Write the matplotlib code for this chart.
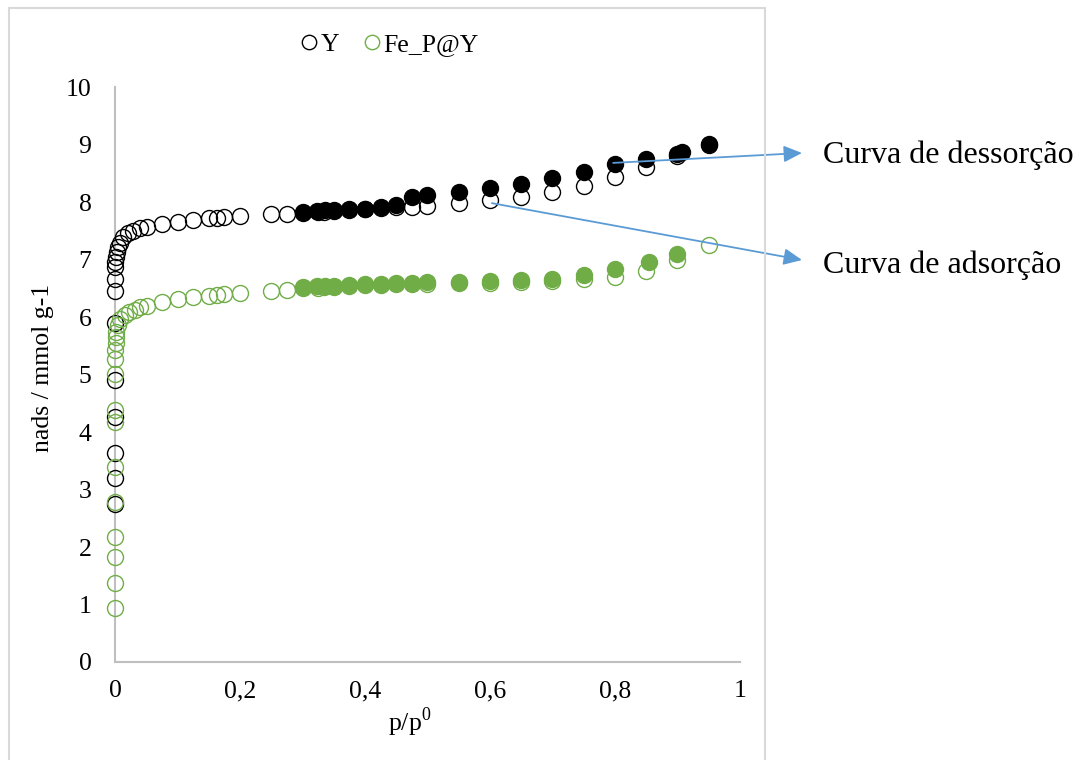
import matplotlib
matplotlib.use("Agg")
import matplotlib.pyplot as plt
from matplotlib.patches import Rectangle

plt.rcParams["font.family"] = ["Liberation Serif", "DejaVu Serif"]
plt.rcParams["mathtext.fontset"] = "custom"
plt.rcParams["mathtext.rm"] = "Liberation Serif"

# Zeolite Y - adsorption branch
y_ads_x = [0.00001, 0.00002, 0.00003, 0.00004, 0.00006, 0.00008, 0.0001, 0.0002,
           0.0004, 0.0006, 0.001, 0.003, 0.005, 0.008, 0.013, 0.021, 0.029, 0.040,
           0.051, 0.075, 0.100, 0.125, 0.150, 0.163, 0.175, 0.200, 0.250, 0.275,
           0.300, 0.325, 0.335, 0.350, 0.375, 0.400, 0.425, 0.450, 0.475, 0.500,
           0.550, 0.600, 0.650, 0.700, 0.750, 0.800, 0.850, 0.900, 0.950]
y_ads_n = [2.75, 3.20, 3.63, 4.26, 4.90, 5.90, 6.45, 6.66,
           6.87, 6.96, 7.04, 7.13, 7.22, 7.29, 7.39, 7.46, 7.50, 7.55,
           7.57, 7.62, 7.65, 7.69, 7.72, 7.73, 7.74, 7.76, 7.79, 7.80,
           7.81, 7.82, 7.83, 7.84, 7.86, 7.88, 7.89, 7.91, 7.92, 7.93,
           7.98, 8.03, 8.09, 8.17, 8.28, 8.43, 8.61, 8.80, 9.00]

# Zeolite Y - desorption branch
y_des_x = [0.951, 0.907, 0.900, 0.850, 0.800, 0.750, 0.700, 0.650, 0.600, 0.550,
           0.500, 0.475, 0.450, 0.425, 0.400, 0.375, 0.350, 0.336, 0.323, 0.300]
y_des_n = [9.01, 8.87, 8.83, 8.75, 8.66, 8.52, 8.42, 8.31, 8.24, 8.17,
           8.12, 8.09, 7.95, 7.91, 7.88, 7.87, 7.86, 7.86, 7.85, 7.83]

# Fe_P@Y - adsorption branch
fe_ads_x = [0.00001, 0.00002, 0.00003, 0.00004, 0.00005, 0.00006, 0.00008, 0.0001,
            0.0002, 0.0003, 0.0005, 0.0008, 0.001, 0.002, 0.004, 0.008, 0.016,
            0.022, 0.032, 0.040, 0.051, 0.075, 0.100, 0.125, 0.150, 0.163, 0.175,
            0.200, 0.250, 0.275, 0.300, 0.325, 0.335, 0.350, 0.375, 0.400, 0.425,
            0.450, 0.475, 0.500, 0.550, 0.600, 0.650, 0.700, 0.750, 0.800, 0.850,
            0.900, 0.950]
fe_ads_n = [0.94, 1.37, 1.83, 2.17, 2.78, 3.39, 4.17, 4.38,
            5.01, 5.27, 5.43, 5.55, 5.66, 5.74, 5.86, 5.96, 6.03,
            6.08, 6.13, 6.17, 6.20, 6.26, 6.31, 6.35, 6.37, 6.38, 6.40,
            6.42, 6.45, 6.47, 6.50, 6.51, 6.52, 6.52, 6.54, 6.55, 6.56,
            6.57, 6.58, 6.58, 6.59, 6.59, 6.61, 6.62, 6.66, 6.70, 6.80,
            7.00, 7.25]

# Fe_P@Y - desorption branch
fe_des_x = [0.900, 0.855, 0.800, 0.750, 0.700, 0.650, 0.600, 0.550, 0.500,
            0.475, 0.450, 0.425, 0.400, 0.375, 0.350, 0.336, 0.323, 0.300]
fe_des_n = [7.09, 6.96, 6.83, 6.73, 6.66, 6.64, 6.63, 6.61, 6.61,
            6.60, 6.59, 6.58, 6.57, 6.56, 6.54, 6.54, 6.54, 6.52]

x_ticks = [0, 0.2, 0.4, 0.6, 0.8, 1.0]
x_tick_labels = ["0", "0,2", "0,4", "0,6", "0,8", "1"]
y_ticks = list(range(0, 11))

BLACK = "#000000"
GREEN = "#70AD47"
ARROW = "#5B9BD5"
SPINE = "#BFBFBF"

W, H = 1092, 760
fig = plt.figure(figsize=(W / 100, H / 100), dpi=100)
ax = fig.add_axes([115 / W, 1 - 662 / H, 625 / W, 575 / H])

ms, mew = 11.5, 1.0
ax.plot(y_ads_x, y_ads_n, ls="none", marker="o", ms=ms, mew=mew,
        mfc="none", mec=BLACK, label="Y", clip_on=False, zorder=3)
ax.plot(fe_ads_x, fe_ads_n, ls="none", marker="o", ms=ms, mew=mew,
        mfc="none", mec=GREEN, label="Fe_P@Y", clip_on=False, zorder=3)
ax.plot(y_des_x, y_des_n, ls="none", marker="o", ms=ms, mew=mew,
        mfc=BLACK, mec=BLACK, clip_on=False, zorder=4)
ax.plot(fe_des_x, fe_des_n, ls="none", marker="o", ms=ms, mew=mew,
        mfc=GREEN, mec=GREEN, clip_on=False, zorder=4)

ax.set_xlim(0, 1)
ax.set_ylim(0, 10)
ax.set_xticks(x_ticks)
ax.set_xticklabels(x_tick_labels)
ax.set_yticks(y_ticks)
ax.tick_params(axis="both", length=0, labelsize=18.5)
ax.tick_params(axis="x", pad=13)
ax.tick_params(axis="y", pad=17)
for side in ("top", "right"):
    ax.spines[side].set_visible(False)
for side in ("left", "bottom"):
    ax.spines[side].set_color(SPINE)
    ax.spines[side].set_linewidth(1.5)

fig.text(43 / W, 1 - 368 / H, "nads / mmol g-1", rotation=90,
         ha="center", va="center", fontsize=18.5)
fig.text(410 / W, 1 - 722 / H, r"p/p$^{0}$", ha="center", va="center",
         fontsize=18.5)

fig.legend(loc="center", bbox_to_anchor=(390 / W, 1 - 45 / H), ncol=2,
           frameon=False, fontsize=18.5, markerscale=0.9,
           handlelength=0.6, handletextpad=0.15, columnspacing=1.0)

# annotation arrows pointing to the branch labels
arrow_style = dict(arrowstyle="-|>,head_length=0.55,head_width=0.25",
                   color=ARROW, lw=1.3, mutation_scale=20,
                   shrinkA=0, shrinkB=0)
ax.annotate("", xy=(802 / W, 1 - 153 / H), xycoords="figure fraction",
            xytext=(0.797, 8.68), textcoords="data",
            arrowprops=arrow_style, annotation_clip=False, zorder=5)
ax.annotate("", xy=(802 / W, 1 - 260 / H), xycoords="figure fraction",
            xytext=(0.603, 7.98), textcoords="data",
            arrowprops=arrow_style, annotation_clip=False, zorder=5)
fig.text(823 / W, 1 - 155 / H, "Curva de dessorção", ha="left", va="center",
         fontsize=23)
fig.text(823 / W, 1 - 265 / H, "Curva de adsorção", ha="left", va="center",
         fontsize=23)

# outer chart frame
frame = Rectangle((9 / W, -0.02), (765 - 9) / W, 1.02 - 8 / H,
                  transform=fig.transFigure, fill=False,
                  edgecolor="#D9D9D9", lw=1.5, zorder=0)
fig.patches.append(frame)

fig.savefig("out.png", dpi=100)
